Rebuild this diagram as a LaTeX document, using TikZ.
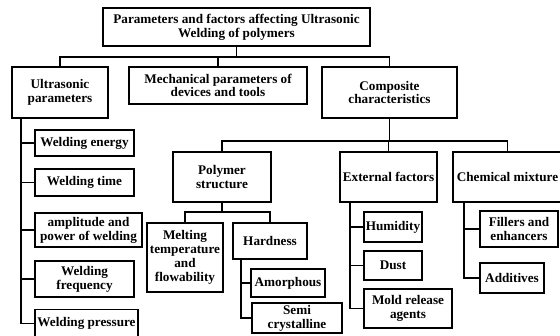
\documentclass[tikz,border=0pt]{standalone}
\usepackage{fontspec}
\setmainfont{Liberation Serif}
\begin{document}
\begin{tikzpicture}[x=1pt,y=-1pt,
  box/.style={draw,line width=1.2pt,inner sep=0pt,align=center,
    font=\fontsize{13.2}{13.8}\selectfont\bfseries},
  link/.style={line width=1.2pt}]
\useasboundingbox (0,0) rectangle (560,335);
% level 0/1
\node[box,minimum width=267,minimum height=38] (top) at (236.5,27) {Parameters and factors affecting Ultrasonic\\Welding of polymers};
\node[box,minimum width=96,minimum height=51] (ultra) at (60,92.5) {Ultrasonic\\parameters};
\node[box,minimum width=178,minimum height=37] (mech) at (218,85.5) {Mechanical parameters of\\devices and tools};
\node[box,minimum width=135,minimum height=51] (comp) at (389.5,92.5) {Composite\\characteristics};
% ultrasonic children
\node[box,minimum width=99,minimum height=26] (energy) at (84.5,143) {Welding energy};
\node[box,minimum width=99,minimum height=27] (time) at (84.5,182.5) {Welding time};
\node[box,minimum width=107,minimum height=34] (amp) at (88.5,230) {amplitude and\\power of welding};
\node[box,minimum width=99,minimum height=36] (freq) at (84.5,279) {Welding\\frequency};
\node[box,minimum width=103,minimum height=28] (press) at (86.5,323.5) {Welding pressure};
% composite children
\node[box,minimum width=98,minimum height=50] (poly) at (222,177) {Polymer\\structure};
\node[box,minimum width=97,minimum height=50] (ext) at (388.5,177) {External factors};
\node[box,minimum width=109,minimum height=50] (chem) at (507.5,177) {Chemical mixture};
% polymer children
\node[box,minimum width=76,minimum height=69] (melt) at (185,257.5) {Melting\\temperature\\and\\flowability};
\node[box,minimum width=74,minimum height=36] (hard) at (270,241) {Hardness};
\node[box,minimum width=74,minimum height=28] (amor) at (288,283) {Amorphous};
\node[box,minimum width=90,minimum height=30] (semi) at (297,318) {Semi\\crystalline};
% external children
\node[box,minimum width=58,minimum height=30] (hum) at (393,227) {Humidity};
\node[box,minimum width=58,minimum height=29] (dust) at (393,265.5) {Dust};
\node[box,minimum width=88,minimum height=39] (mold) at (408,308.5) {Mold release\\agents};
% chemical children
\node[box,minimum width=78,minimum height=36] (fill) at (519,229) {Fillers and\\enhancers};
\node[box,minimum width=64,minimum height=30] (add) at (512,278) {Additives};
% junction coordinates
\coordinate (j0) at (236.5,57);
\coordinate (j1) at (222,141);
\coordinate (j2) at (222,212);
\coordinate (ub) at (21,118);
\coordinate (hb) at (241,259);
\coordinate (eb) at (350,202);
\coordinate (cb) at (464,202);
% connectors
\draw[link] (top.south) -- (j0);
\draw[link] (ultra.north) |- (j0) -| (comp.north);
\draw[link] (mech.north) -- (mech.north |- j0);
\draw[link] (comp.south) -- (comp.south |- j1);
\draw[link] (poly.north) |- (j1) -| (chem.north);
\draw[link] (ext.north) -- (ext.north |- j1);
\draw[link] (poly.south) -- (j2);
\draw[link] (melt.north) |- (j2) -| (hard.north);
\draw[link] (ub) |- (press.west);
\draw[link] (energy.west) -- (energy.west -| ub);
\draw[link] (time.west) -- (time.west -| ub);
\draw[link] (amp.west) -- (amp.west -| ub);
\draw[link] (freq.west) -- (freq.west -| ub);
\draw[link] (hb) |- (semi.west);
\draw[link] (amor.west) -- (amor.west -| hb);
\draw[link] (eb) |- (mold.west);
\draw[link] (hum.west) -- (hum.west -| eb);
\draw[link] (dust.west) -- (dust.west -| eb);
\draw[link] (cb) |- (add.west);
\draw[link] (fill.west) -- (fill.west -| cb);
\end{tikzpicture}
\end{document}
